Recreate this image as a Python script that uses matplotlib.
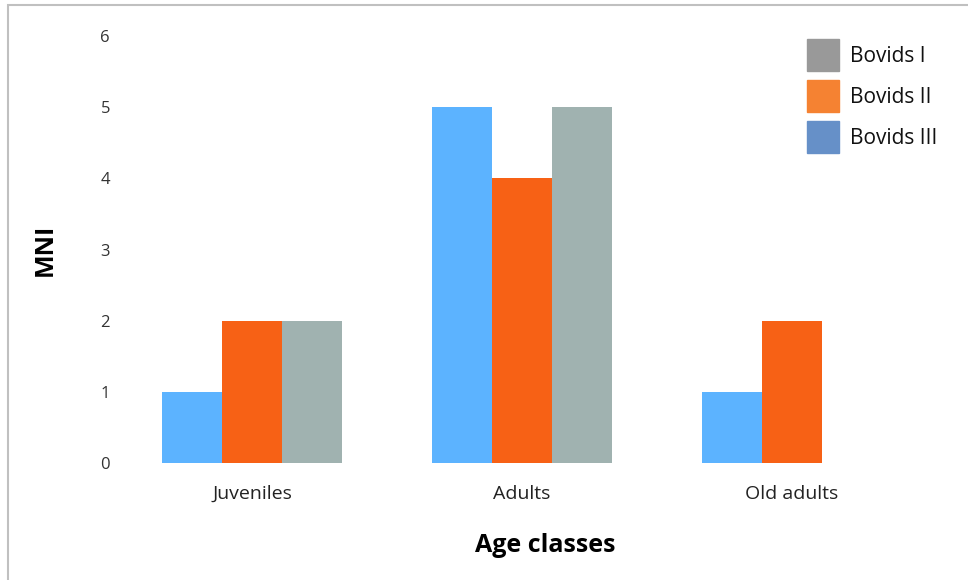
import matplotlib.pyplot as plt
import matplotlib.patches as mpatches
import numpy as np

# data
categories = ['Juveniles', 'Adults', 'Old adults']
series_names = ['Bovids I', 'Bovids II', 'Bovids III']
blue_vals = [1, 5, 1]
orange_vals = [2, 4, 2]
gray_vals = [2, 5, 0]

bar_colors = ['#5cb3ff', '#f76115', '#a0b2b0']
legend_colors = ['#999999', '#f58232', '#6690c8']

plt.rcParams['font.family'] = ['Open Sans', 'DejaVu Sans']

W, H = 968, 580
fig = plt.figure(figsize=(W/100, H/100), dpi=100)
ax = fig.add_axes([117/W, 117/H, (927-117)/W, (544-117)/H])

x = np.arange(len(categories))
w = 60/270
ax.bar(x - w, blue_vals, w, color=bar_colors[0])
ax.bar(x, orange_vals, w, color=bar_colors[1])
ax.bar(x + w, gray_vals, w, color=bar_colors[2])

ax.set_xlim(-0.5, 2.5)
ax.set_ylim(0, 6)
ax.set_yticks(range(7))
ax.set_xticks(x)
ax.set_xticklabels(categories, fontsize=14, color='#222222')
ax.tick_params(axis='y', labelsize=12, length=0, pad=5, labelcolor='#333333')
ax.tick_params(axis='x', length=0, pad=16)
for s in ax.spines.values():
    s.set_visible(False)

fig.text(545/W, 1 - 545/H, 'Age classes', ha='center', va='center',
         fontsize=18, fontweight='bold')
fig.text(45/W, 1 - 250/H, 'MNI', ha='center', va='center',
         fontsize=18, fontweight='bold', rotation=90)

# legend drawn by hand (its colours differ slightly from the bars)
for i, (c, n) in enumerate(zip(legend_colors, series_names)):
    top = 39 + i*41
    fig.add_artist(mpatches.Rectangle((807/W, 1 - (top + 32)/H), 32/W, 32/H,
                                      transform=fig.transFigure, color=c))
    fig.text(850/W, 1 - (top + 17)/H, n, ha='left', va='center', fontsize=15,
             color='#111111')

# outer frame, only left and top visible
fig.add_artist(mpatches.Rectangle((8/W, -0.1), 1.2, 1 - 5/H + 0.1,
                                  transform=fig.transFigure, fill=False,
                                  edgecolor='#c0c0c0', linewidth=1.5))

fig.savefig('out.png', dpi=100)
